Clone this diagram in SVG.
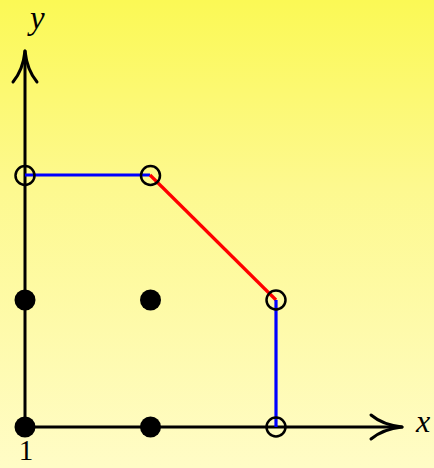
<svg xmlns="http://www.w3.org/2000/svg" width="434" height="468" viewBox="0 0 434 468">
<defs>
<linearGradient id="bg" x1="0" y1="0" x2="0" y2="1">
<stop offset="0" stop-color="#fbf955"/>
<stop offset="0.4" stop-color="#fdf98f"/>
<stop offset="1" stop-color="#fffcc6"/>
</linearGradient>
<style>
.axis{stroke:#000;stroke-width:3;fill:none;stroke-linecap:round}
.head{stroke:#000;stroke-width:3;fill:none;stroke-linecap:round;stroke-linejoin:round}
.blue{stroke:#0000ff;stroke-width:3.2;fill:none}
.red{stroke:#ff0000;stroke-width:3.2;fill:none}
.open{stroke:#000;stroke-width:2.5;fill:none}
.dot{fill:#000}
.lbl{font-family:"Liberation Serif","DejaVu Serif",serif;fill:#000}
.it{font-style:italic}
</style>
</defs>
<rect width="434" height="468" fill="url(#bg)"/>
<g id="axes">
<path class="axis" d="M25,427 V51"/>
<path class="head" d="M13,82 Q23,70 25,51 Q27,70 37,82"/>
<path class="axis" d="M25,427 H402"/>
<path class="head" d="M371,415 Q383,425 402,427 Q383,429 371,439"/>
</g>
<g id="connectors">
<path class="blue" d="M25,175 H150"/>
<path class="red" d="M150,175 L276,300"/>
<path class="blue" d="M276,300 V427"/>
</g>
<g id="p00"><circle class="dot" cx="25" cy="427" r="10.5"/></g>
<g id="p10"><circle class="dot" cx="150.5" cy="427" r="10.5"/></g>
<g id="p01"><circle class="dot" cx="25" cy="300" r="10.5"/></g>
<g id="p11"><circle class="dot" cx="150.5" cy="300" r="10.5"/></g>
<g id="o02"><circle class="open" cx="25" cy="175.5" r="9.5"/></g>
<g id="o12"><circle class="open" cx="150.5" cy="175.5" r="9.5"/></g>
<g id="o21"><circle class="open" cx="276" cy="300" r="9.5"/></g>
<g id="o20"><circle class="open" cx="276" cy="427" r="9.5"/></g>
<g id="labels">
<text class="lbl it" x="30" y="29" font-size="33">y</text>
<text class="lbl it" x="416" y="432" font-size="32">x</text>
<text class="lbl" x="26" y="460" font-size="29" text-anchor="middle">1</text>
</g>
</svg>
